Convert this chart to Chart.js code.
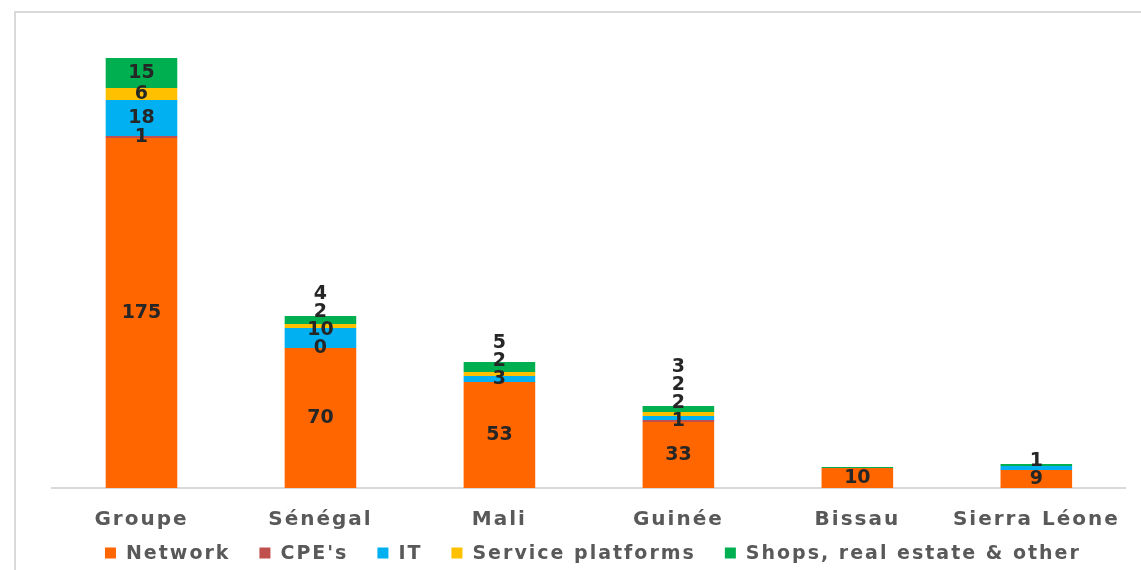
<!DOCTYPE html>
<html>
<head>
<meta charset="utf-8">
<script src="https://cdn.jsdelivr.net/npm/chart.js@4.4.1/dist/chart.umd.min.js"></script>
<style>
  html, body { margin: 0; padding: 0; background: #fff; }
  #wrap { position: relative; width: 1141px; height: 570px; }
  #frame { position: absolute; left: 14px; top: 11px; right: 0; bottom: 0;
           border-top: 2px solid #d9d9d9; border-left: 2px solid #d9d9d9; }
  canvas { position: absolute; left: 0; top: 0; }
</style>
</head>
<body>
<div id="wrap">
  <div id="frame"></div>
  <canvas id="c" width="1141" height="570"></canvas>
</div>
<script>
// Capex breakdown by entity
const categories = ['Groupe', 'Sénégal', 'Mali', 'Guinée', 'Bissau', 'Sierra Léone'];
const network  = [175, 70, 53, 33, 10, 9];
const cpe      = [1, 0, null, 1, null, null];
const it       = [18, 10, 3, 2, null, 2];
const services = [6, 2, 2, 2, null, null];
const shops    = [15, 4, 5, 3, 0.5, 1];
// values drawn without a printed label: "series:category"
const unlabeled = ['2:5', '4:4'];

const seriesNames = ['Network', "CPE's", 'IT', 'Service platforms', 'Shops, real estate & other'];
const seriesColors = ['#FF6600', '#C0504D', '#00B0F0', '#FFC000', '#00B050'];
const seriesData = [network, cpe, it, services, shops];

const FONT = '"DejaVu Sans", "Liberation Sans", Arial, sans-serif';
const WIDE = '2px';

// slightly wider tracking for axis and legend text
const tracking = {
  id: 'tracking',
  beforeLayout(chart) { chart.ctx.letterSpacing = WIDE; },
  beforeDraw(chart) { chart.ctx.letterSpacing = WIDE; }
};

const stackLabels = {
  id: 'stackLabels',
  afterDatasetsDraw(chart) {
    const ctx = chart.ctx;
    ctx.save();
    ctx.letterSpacing = '0px';
    ctx.font = 'bold 19px ' + FONT;
    ctx.fillStyle = '#262626';
    ctx.textAlign = 'center';
    ctx.textBaseline = 'middle';
    const gap = 18;
    categories.forEach((cat, i) => {
      let prevY = Infinity;
      chart.data.datasets.forEach((ds, d) => {
        const v = ds.data[i];
        if (v === null || v === undefined) return;
        if (unlabeled.includes(d + ':' + i)) return;
        const bar = chart.getDatasetMeta(d).data[i];
        const center = (bar.y + bar.base) / 2;
        const y = Math.min(center, prevY - gap);
        ctx.fillText(String(v), bar.x, y);
        prevY = y;
      });
    });
    ctx.restore();
  }
};

// legend row under the axis labels
const legendRow = {
  id: 'legendRow',
  afterDraw(chart) {
    const ctx = chart.ctx;
    const box = 11, textGap = 10, itemGap = 29;
    ctx.save();
    ctx.letterSpacing = WIDE;
    ctx.font = 'bold 19px ' + FONT;
    ctx.textBaseline = 'middle';
    ctx.textAlign = 'left';
    const widths = chart.data.datasets.map(ds => ctx.measureText(ds.label).width);
    const total = widths.reduce((a, w) => a + box + textGap + w, 0) + itemGap * (widths.length - 1);
    const area = chart.chartArea;
    let x = (area.left + area.right) / 2 + 4 - total / 2;
    const y = 553;
    chart.data.datasets.forEach((ds, k) => {
      ctx.fillStyle = ds.backgroundColor;
      ctx.fillRect(x, y - box / 2, box, box);
      ctx.fillStyle = '#595959';
      ctx.fillText(ds.label, x + box + textGap, y + 1);
      x += box + textGap + widths[k] + itemGap;
    });
    ctx.restore();
  }
};

new Chart(document.getElementById('c'), {
  type: 'bar',
  data: {
    labels: categories,
    datasets: seriesNames.map((name, k) => ({
      label: name,
      data: seriesData[k],
      backgroundColor: seriesColors[k],
      borderWidth: 0,
      categoryPercentage: 1,
      barPercentage: 0.4
    }))
  },
  options: {
    responsive: false,
    animation: false,
    layout: { padding: { left: 52, right: 15, top: 18, bottom: 18 } },
    scales: {
      x: {
        stacked: true,
        grid: { display: false, drawTicks: false },
        border: { color: '#d9d9d9', width: 2 },
        ticks: {
          color: '#595959',
          padding: 20,
          font: { family: FONT, size: 20, weight: 'bold' }
        }
      },
      y: {
        stacked: true,
        display: false,
        min: 0,
        max: 235
      }
    },
    plugins: {
      legend: { display: false },
      tooltip: { enabled: false }
    }
  },
  plugins: [tracking, stackLabels, legendRow]
});
</script>
</body>
</html>
